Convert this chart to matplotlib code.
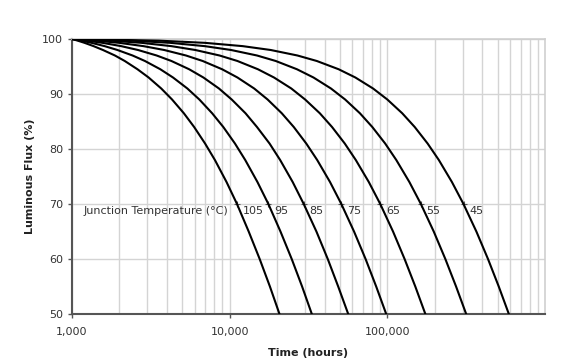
import matplotlib
matplotlib.use('Agg')
import matplotlib.pyplot as plt
from matplotlib.ticker import FixedLocator, LogLocator, NullFormatter

FLUX = [100, 99.7, 99.3, 98.7, 98, 97, 96, 94.5, 93, 91, 89, 86.5, 84, 81, 78, 74,
        70, 65, 60, 55, 50]

TEMPS = ['105', '95', '85', '75', '65', '55', '45']
HOURS = {
    '105': [1000, 1085, 1200, 1370, 1570, 1870, 2160, 2600, 3060, 3680, 4310, 5120,
            5950, 6980, 8060, 9550, 11130, 13200, 15500, 18000, 20700],
    '95':  [1000, 1140, 1330, 1610, 1940, 2420, 2900, 3630, 4370, 5390, 6420, 7740,
            9110, 10800, 12550, 15000, 17600, 21000, 24750, 28800, 33200],
    '85':  [1000, 1240, 1560, 2050, 2620, 3440, 4270, 5530, 6810, 8550, 10300, 12600,
            14900, 17900, 20900, 25100, 29500, 35500, 41900, 48800, 56500],
    '75':  [1000, 1420, 1990, 2840, 3840, 5280, 6740, 8950, 11200, 14300, 17400, 21400,
            25500, 30600, 35900, 43300, 51100, 61500, 72800, 85000, 98400],
    '65':  [1000, 1750, 2760, 4270, 6050, 8620, 11200, 15100, 19100, 24600, 30100, 37300,
            44600, 53700, 63100, 76300, 90200, 108700, 128700, 150500, 174300],
    '55':  [1000, 2370, 4200, 6950, 10200, 14900, 19600, 26700, 34000, 43900, 54000, 67000,
            80300, 96900, 114000, 138000, 163300, 197000, 233400, 273000, 316400],
    '45':  [1000, 3550, 6970, 12100, 18200, 26900, 35700, 49100, 62700, 81200, 100000, 124300,
            149200, 180100, 212200, 256900, 304200, 367200, 435200, 509200, 590200],
}

X_TICKS = [1000, 10000, 100000]
X_LABELS = ['1,000', '10,000', '100,000']
Y_TICKS = [50, 60, 70, 80, 90, 100]

plt.rcParams['font.family'] = ['DejaVu Sans']
fig = plt.figure(figsize=(5.81, 3.61), dpi=100)
ax = fig.add_axes([0.124, 0.130, 0.814, 0.762])

i70 = FLUX.index(70)
for t in TEMPS:
    ax.plot(HOURS[t], FLUX, color='black', lw=1.5, solid_capstyle='round', zorder=3)
    ax.plot(HOURS[t][i70], 70, marker='+', ms=4, mew=0.8, color='#555555', zorder=2)
    ax.annotate(t, (HOURS[t][i70], 70), xytext=(4, -5), textcoords='offset points',
                ha='left', va='center', fontsize=8, color='#333333')

ax.annotate('Junction Temperature (°C)', (1180, 70), xytext=(0, -5), textcoords='offset points',
            ha='left', va='center', fontsize=8, color='#333333')

ax.set_xscale('log')
ax.set_xlim(1000, 1e6)
ax.set_ylim(50, 100)
ax.xaxis.set_major_locator(FixedLocator(X_TICKS))
ax.set_xticklabels(X_LABELS)
ax.xaxis.set_minor_locator(LogLocator(base=10, subs=range(2, 10), numticks=20))
ax.xaxis.set_minor_formatter(NullFormatter())
ax.set_yticks(Y_TICKS)

ax.grid(True, which='both', axis='x', color='#d4d4d4', lw=1.0)
ax.grid(True, which='major', axis='y', color='#d4d4d4', lw=1.0)
ax.set_axisbelow(True)

for s in ['left', 'bottom']:
    ax.spines[s].set_color('#555555')
    ax.spines[s].set_linewidth(1.5)
for s in ['top', 'right']:
    ax.spines[s].set_color('#cfcfcf')
    ax.spines[s].set_linewidth(1.2)

ax.tick_params(axis='both', which='major', length=3, width=1, color='#555555',
               labelsize=8, labelcolor='#333333')
ax.tick_params(axis='x', which='minor', length=0)
ax.tick_params(axis='x', which='major', pad=6)

ax.set_xlabel('Time (hours)', fontsize=8, fontweight='bold', color='#222222', labelpad=8)
ax.set_ylabel('Luminous Flux (%)', fontsize=8, fontweight='bold', color='#222222', labelpad=5)

fig.savefig('out.png', dpi=100)
